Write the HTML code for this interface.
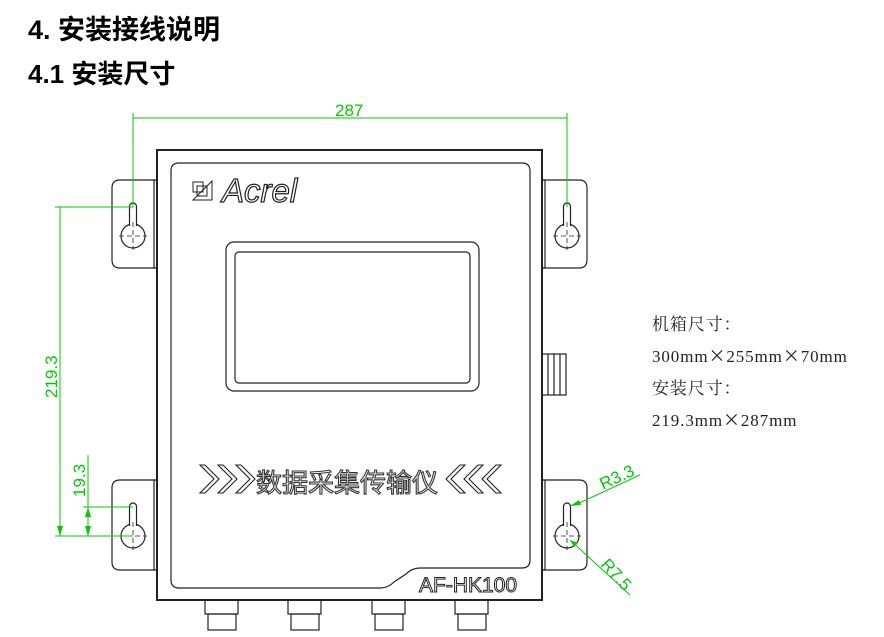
<!DOCTYPE html>
<html><head><meta charset="utf-8"><style>
body{margin:0;background:#fff;width:884px;height:637px;overflow:hidden;position:relative;font-family:"Liberation Sans","Noto Sans CJK SC",sans-serif}
.h{position:absolute;left:28px;font-weight:bold;color:#000}
.r{position:absolute;left:652px;font-family:"Liberation Serif","Noto Serif CJK SC",serif;font-size:17px;color:#222;letter-spacing:0.9px;white-space:nowrap}
</style></head><body>
<div class="h" style="top:8px;font-size:27px">4. 安装接线说明</div>
<div class="h" style="top:54px;font-size:26px">4.1 安装尺寸</div>
<div class="r" style="top:310px">机箱尺寸：</div>
<div class="r" style="top:342px">300mm<span style="font-family:'Noto Sans CJK SC'">×</span>255mm<span style="font-family:'Noto Sans CJK SC'">×</span>70mm</div>
<div class="r" style="top:374px">安装尺寸：</div>
<div class="r" style="top:406px">219.3mm<span style="font-family:'Noto Sans CJK SC'">×</span>287mm</div>
<svg width="884" height="637" style="position:absolute;left:0;top:0" font-family="Liberation Sans, sans-serif">
<g fill="none" stroke="#222" stroke-width="1.2">
<path d="M157 180 H120 q-8 0 -8 8 V260 q0 8 8 8 H157"/>
<path d="M157 480 H120 q-8 0 -8 8 V562 q0 8 8 8 H157"/>
<path d="M542 180 H579 q8 0 8 8 V260 q0 8 -8 8 H542"/>
<path d="M542 480 H579 q8 0 8 8 V562 q0 8 -8 8 H542"/>
<rect x="154" y="180" width="3" height="88"/><rect x="154" y="480" width="3" height="90"/>
<rect x="542" y="180" width="3" height="88"/><rect x="542" y="480" width="3" height="90"/>
<rect x="157" y="150" width="385" height="450" stroke-width="2"/>
<path d="M179 163 H522 q8 0 8 8 V560 q0 8 -8 8 H420 q-8 0 -14 6 l-12 8 q-6 6 -14 6 H179 q-8 0 -8 -8 V171 q0 -8 8 -8Z"/>
<rect x="226" y="242" width="253" height="149" rx="8"/>
<rect x="235" y="252" width="235" height="131" rx="4"/>
<rect x="542" y="354" width="24" height="41"/>
<line x1="548" y1="354" x2="548" y2="395"/><line x1="554" y1="354" x2="554" y2="395"/><line x1="560" y1="354" x2="560" y2="395"/>
<rect x="205" y="600" width="33" height="14"/><rect x="208" y="614" width="28" height="16"/>
<rect x="288" y="600" width="33" height="14"/><rect x="291" y="614" width="28" height="16"/>
<rect x="372" y="600" width="33" height="14"/><rect x="375" y="614" width="28" height="16"/>
<rect x="455" y="600" width="33" height="14"/><rect x="458" y="614" width="28" height="16"/>
</g>
<g stroke="#222" stroke-width="1.2">
<circle cx="133" cy="236" r="12" fill="none"/><path d="M129.5 226 V206.5 A3.5 3.5 0 0 1 136.5 206.5 V226" fill="#fff"/>
<circle cx="133" cy="536" r="12" fill="none"/><path d="M129.5 526 V506.5 A3.5 3.5 0 0 1 136.5 506.5 V526" fill="#fff"/>
<circle cx="567" cy="236" r="12" fill="none"/><path d="M563.5 226 V206.5 A3.5 3.5 0 0 1 570.5 206.5 V226" fill="#fff"/>
<circle cx="567" cy="536" r="12" fill="none"/><path d="M563.5 526 V506.5 A3.5 3.5 0 0 1 570.5 506.5 V526" fill="#fff"/>
</g>
<g stroke="#222" stroke-width="0.8" stroke-dasharray="5 3">
<line x1="119" y1="236" x2="147" y2="236"/><line x1="133" y1="222" x2="133" y2="250"/>
<line x1="119" y1="536" x2="147" y2="536"/><line x1="133" y1="522" x2="133" y2="550"/>
<line x1="553" y1="236" x2="581" y2="236"/><line x1="567" y1="222" x2="567" y2="250"/>
<line x1="553" y1="536" x2="581" y2="536"/><line x1="567" y1="522" x2="567" y2="550"/>
</g>
<g stroke="#0c0" stroke-width="1" fill="#0c0">
<line x1="133" y1="113" x2="133" y2="207"/><line x1="567" y1="113" x2="567" y2="207"/>
<line x1="133" y1="118" x2="567" y2="118"/>
<line x1="55" y1="207" x2="133" y2="207"/><line x1="55" y1="536" x2="133" y2="536"/>
<line x1="60" y1="207" x2="60" y2="536"/>
<line x1="83" y1="507" x2="133" y2="507"/><line x1="88" y1="455" x2="88" y2="536"/>
<line x1="575" y1="505" x2="640" y2="475"/>
<line x1="570" y1="540" x2="630" y2="595"/>
<path d="M60 536 l-3 -10 h6Z M88 536 l-3 -10 h6Z M88 507 l-3 10 h6Z M570 506 l9 -6 l2 5Z M570 540 l8 3 l-4 4Z" stroke="none"/>
</g>
<g fill="#0c0" font-size="17">
<text x="335" y="116">287</text>
<text transform="translate(57,398) rotate(-90)">219.3</text>
<text transform="translate(85,497) rotate(-90)">19.3</text>
<text transform="translate(603,490) rotate(-25)">R3.3</text>
<text transform="translate(600,565) rotate(48)">R7.5</text>
</g>
<text x="222" y="202" font-size="33" font-style="italic" fill="#fff" stroke="#222" stroke-width="1.2">Acrel</text>
<g fill="none" stroke="#222"><rect x="193" y="182" width="10" height="10"/><rect x="197" y="186" width="10" height="10"/><path d="M212 181 v19 h-19 z"/></g>
<g fill="none" stroke="#222" stroke-width="1.1">
<path d="M200 465 l5 0 l14 14 l-14 14 l-5 0 l14 -14Z"/>
<path d="M218 465 l5 0 l14 14 l-14 14 l-5 0 l14 -14Z"/>
<path d="M236 465 l5 0 l14 14 l-14 14 l-5 0 l14 -14Z"/>
<path d="M465 465 l-5 0 l-14 14 l14 14 l5 0 l-14 -14Z"/>
<path d="M483 465 l-5 0 l-14 14 l14 14 l5 0 l-14 -14Z"/>
<path d="M501 465 l-5 0 l-14 14 l14 14 l5 0 l-14 -14Z"/>
</g>
<text x="256" y="492" font-size="26" fill="#fff" stroke="#333" stroke-width="1.1" font-family="Noto Sans CJK SC, sans-serif">数据采集传输仪</text>
<text x="419" y="592" font-size="21" fill="#fff" stroke="#222" stroke-width="1">AF-HK100</text>
</svg>
</body></html>
